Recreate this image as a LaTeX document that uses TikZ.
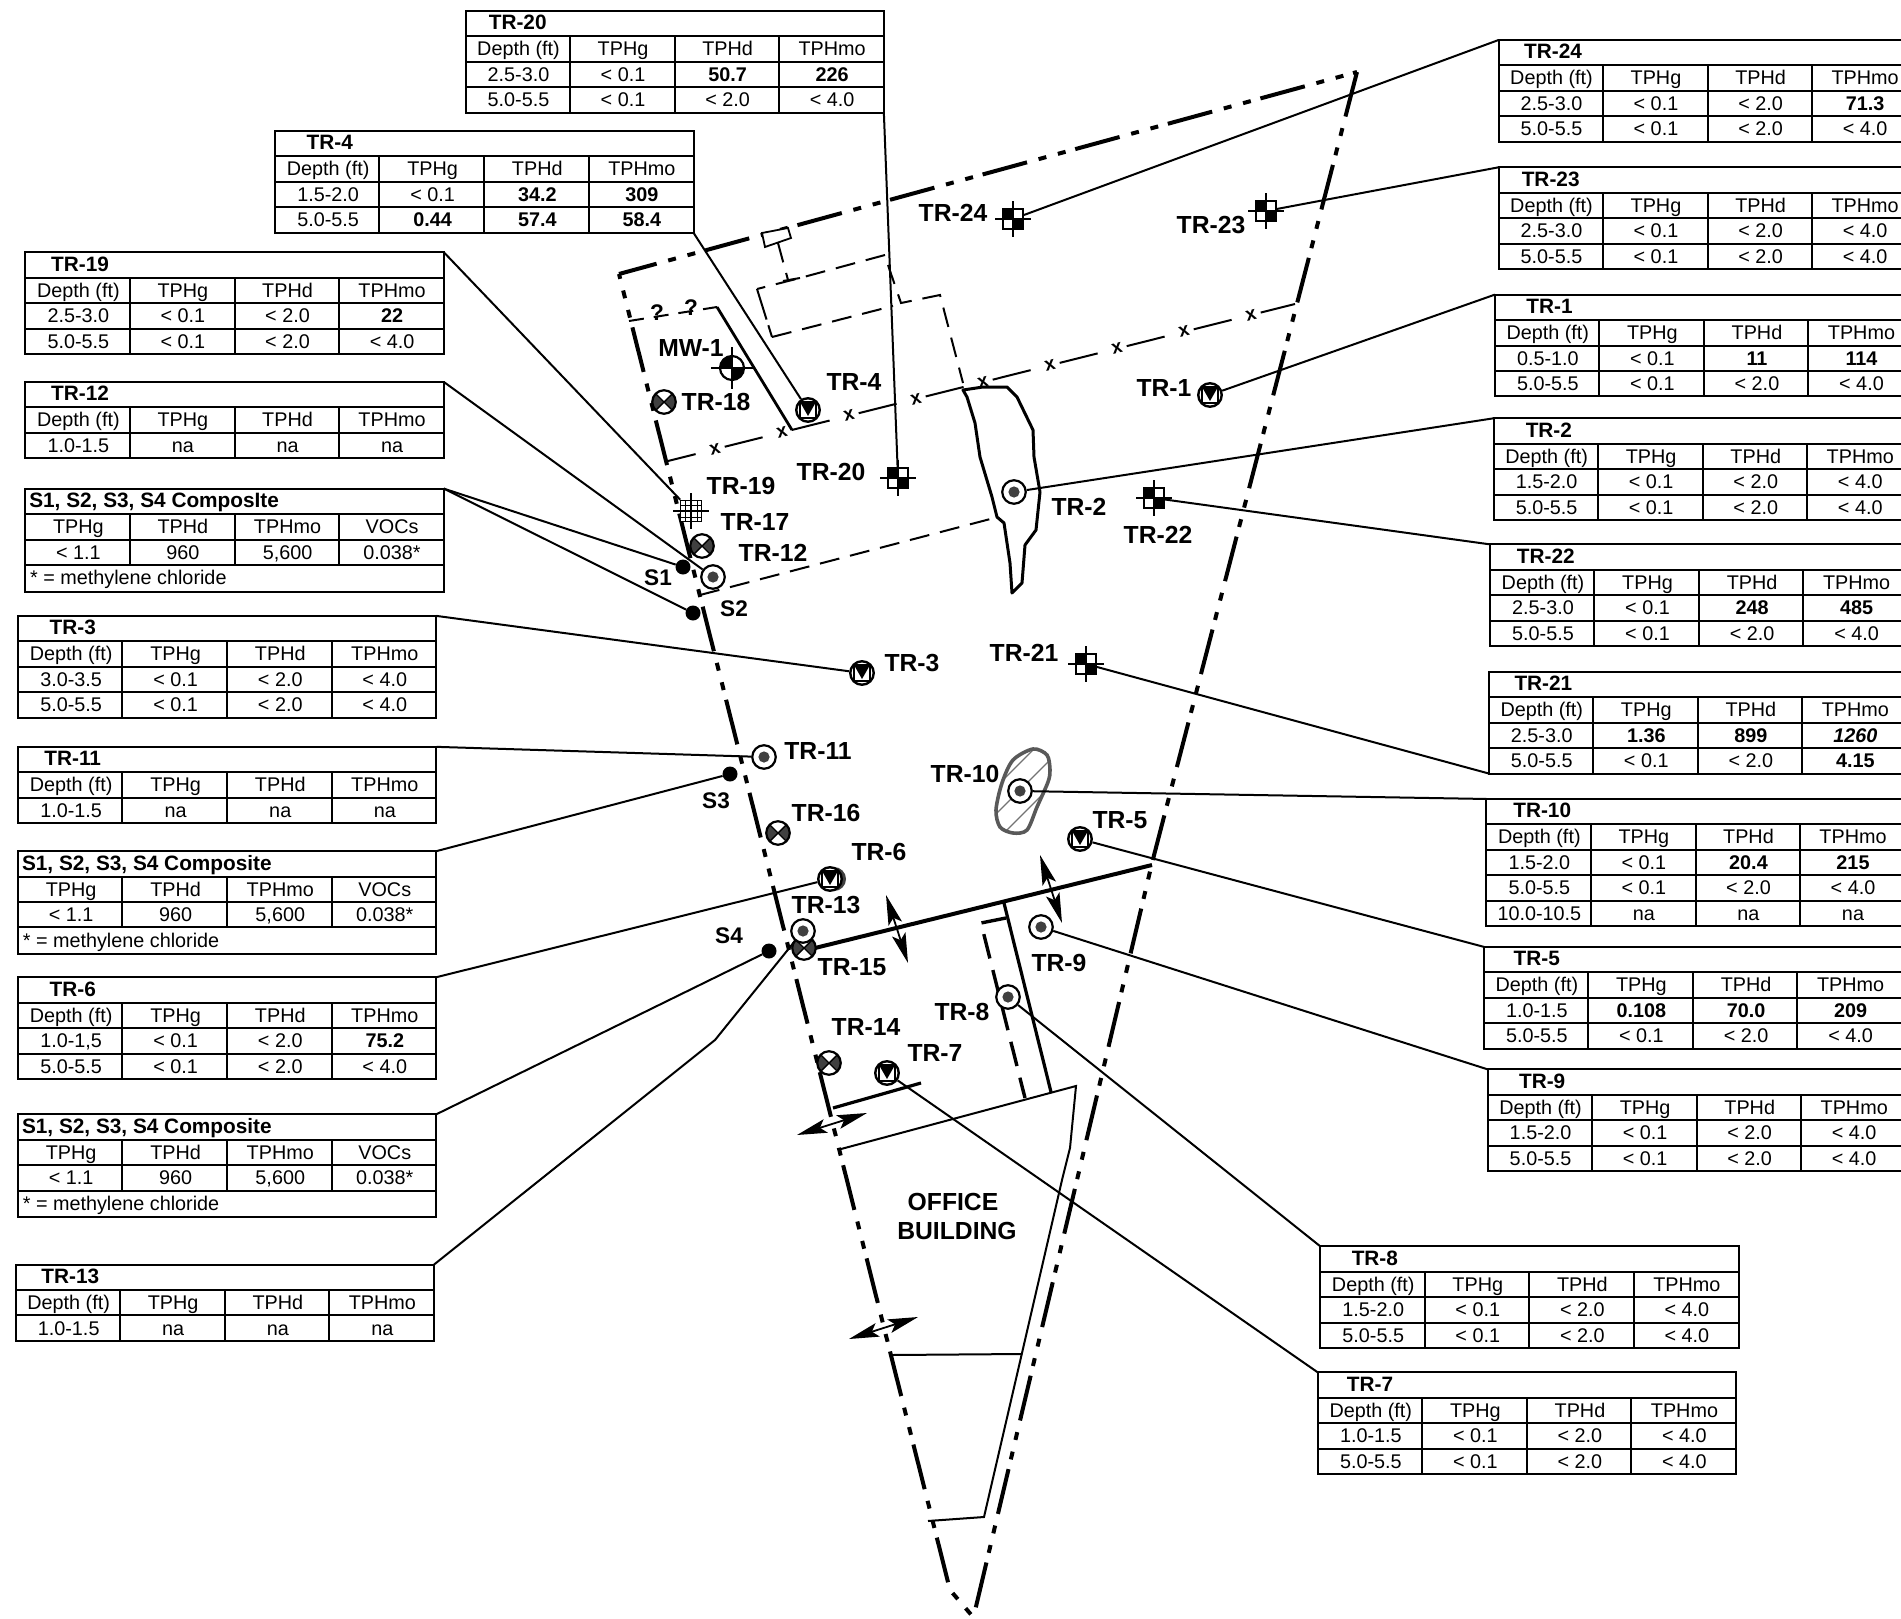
\documentclass[tikz,border=0pt]{standalone}
\usepackage{fontspec}
\setmainfont{Liberation Sans}
\usetikzlibrary{arrows.meta}
\definecolor{mkdark}{gray}{0.25}
\tikzset{
  tablebox/.style={draw,line width=2pt,inner sep=0pt,outer sep=0pt,rectangle},
  tablerule/.style={line width=2pt},
  cell/.style={inner sep=0pt,anchor=base,xshift=0.8pt,yshift=-6.8pt,font=\fontsize{19.8}{21}\selectfont},
  celltitle/.style={inner sep=0pt,anchor=base,yshift=-6.2pt,font=\fontsize{20.8}{23}\selectfont\bfseries},
  maplabel/.style={inner sep=0pt,font=\fontsize{24.7}{27}\selectfont\bfseries},
  slabel/.style={inner sep=0pt,font=\fontsize{22.6}{25}\selectfont\bfseries},
  boundary/.style={line width=4pt,dash pattern=on 46pt off 12pt on 8pt off 12pt on 8pt off 10pt},
  leader/.style={line width=2pt},
  thindash/.style={line width=2pt,dash pattern=on 20pt off 11pt},
  wallline/.style={line width=3.2pt},
  wallthin/.style={line width=2pt},
  wallbold/.style={line width=4pt},
  walldash/.style={line width=3.4pt,dash pattern=on 25pt off 12pt},
  fencemark/.style={inner sep=0pt,rotate=14,font=\fontsize{19}{21}\selectfont\bfseries},
  sitearrow/.style={line width=1.8pt,{Stealth[length=30pt,width=14pt,inset=6pt]}-{Stealth[length=30pt,width=14pt,inset=6pt]}},
  ringmk/.style={circle,draw,line width=2.2pt,minimum size=23.5pt,inner sep=0pt,fill=white,
    path picture={\fill[mkdark] (path picture bounding box.center) circle (5.6pt);}},
  xmk/.style={circle,draw,line width=2.2pt,minimum size=23.5pt,inner sep=0pt,fill=white,
    path picture={
      \fill[mkdark] (path picture bounding box.center) -- ++(-20pt,20pt) -- ++(0,-40pt) -- cycle;
      \fill[mkdark] (path picture bounding box.center) -- ++(20pt,20pt) -- ++(0,-40pt) -- cycle;
      \draw[line width=1.4pt] ([shift={(-12pt,-12pt)}]path picture bounding box.center) -- ([shift={(12pt,12pt)}]path picture bounding box.center);
      \draw[line width=1.4pt] ([shift={(-12pt,12pt)}]path picture bounding box.center) -- ([shift={(12pt,-12pt)}]path picture bounding box.center);
    }},
  vmk/.style={circle,draw,line width=2.4pt,minimum size=23.5pt,inner sep=0pt,fill=white,
    path picture={
      \fill[black] ([shift={(-8pt,8pt)}]path picture bounding box.center) -- ([shift={(8pt,8pt)}]path picture bounding box.center) -- ([shift={(0pt,-6pt)}]path picture bounding box.center) -- cycle;
      \draw[line width=1.6pt] ([shift={(-8pt,8pt)}]path picture bounding box.center) -- ([shift={(-8pt,-8pt)}]path picture bounding box.center);
      \draw[line width=1.6pt] ([shift={(8pt,8pt)}]path picture bounding box.center) -- ([shift={(8pt,-8pt)}]path picture bounding box.center);
      \draw[line width=1.6pt] ([shift={(-8pt,8pt)}]path picture bounding box.center) -- ([shift={(8pt,8pt)}]path picture bounding box.center);
      \draw[line width=1.6pt] ([shift={(-8pt,-8pt)}]path picture bounding box.center) -- ([shift={(8pt,-8pt)}]path picture bounding box.center);
    }},
  sqmk/.style={rectangle,draw,line width=2pt,minimum size=20pt,inner sep=0pt,fill=white,
    path picture={
      \fill[black] (path picture bounding box.center) rectangle (path picture bounding box.north west);
      \fill[black] (path picture bounding box.center) rectangle (path picture bounding box.south east);
    }},
  gridmk/.style={rectangle,draw,line width=1.6pt,minimum size=21pt,inner sep=0pt,fill=white,
    path picture={
      \draw[line width=1pt] ([shift={(-6pt,-12pt)}]path picture bounding box.center) -- ++(0,24pt);
      \draw[line width=1pt] ([shift={(6pt,-12pt)}]path picture bounding box.center) -- ++(0,24pt);
      \draw[line width=1pt] ([shift={(-12pt,-6pt)}]path picture bounding box.center) -- ++(24pt,0);
      \draw[line width=1pt] ([shift={(-12pt,6pt)}]path picture bounding box.center) -- ++(24pt,0);
    }},
  wellmk/.style={circle,draw,line width=2.2pt,minimum size=24pt,inner sep=0pt,fill=white,
    path picture={
      \fill[black] (path picture bounding box.center) rectangle (path picture bounding box.north west);
      \fill[black] (path picture bounding box.center) rectangle (path picture bounding box.south east);
    }},
  dotmk/.style={circle,fill=black,minimum size=15pt,inner sep=0pt},
  crossarm/.style={line width=2pt},
  blobfill/.style={line width=3.6pt,draw=black!65},
  hatchline/.style={line width=1.1pt,draw=black!55},
}
% name, x0, ytop, nrows, titlex, title, rows  (in the table scope's units)
\newcommand\datatable[7]{%
  \begin{scope}[x=1.2124pt,y=-1.2124pt]
    \pgfmathsetmacro\tblh{21*(#4+1)*1.2124}
    \node[tablebox,anchor=north west,minimum width=418.3pt,minimum height=\tblh pt] (#1) at (#2,#3) {};
    \node[celltitle] (#1-t) at (#5,#3+10.5) {#6};
    \foreach \ca/\cb/\cc/\cd [count=\rr] in {#7} {
      \pgfmathsetmacro\yc{#3+21*\rr+10.5}
      \draw[tablerule] (#2,#3+21*\rr) -- (#2+345,#3+21*\rr);
      \node[cell] (#1-\rr-1) at (#2+43,\yc) {\ca};
      \node[cell] (#1-\rr-2) at (#2+129.2,\yc) {\cb};
      \node[cell] (#1-\rr-3) at (#2+215.5,\yc) {\cc};
      \node[cell] (#1-\rr-4) at (#2+301.7,\yc) {\cd};
    }
    \foreach \vx in {86,172.5,258.5} {
      \draw[tablerule] (#2+\vx,#3+21) -- (#2+\vx,#3+21*#4+21);
    }
  \end{scope}}
% name, x0, ytop, title
\newcommand\compositetable[4]{%
  \begin{scope}[x=1.2124pt,y=-1.2124pt]
    \node[tablebox,anchor=north west,minimum width=418.3pt,minimum height=103pt] (#1) at (#2,#3) {};
    \node[celltitle,anchor=base west] (#1-t) at (#2+3,#3+10.5) {#4};
    \node[cell] (#1-a1) at (#2+43,#3+31.5) {TPHg};
    \node[cell] (#1-a2) at (#2+129.2,#3+31.5) {TPHd};
    \node[cell] (#1-a3) at (#2+215.5,#3+31.5) {TPHmo};
    \node[cell] (#1-a4) at (#2+301.7,#3+31.5) {VOCs};
    \node[cell] (#1-b1) at (#2+43,#3+52.5) {< 1.1};
    \node[cell] (#1-b2) at (#2+129.2,#3+52.5) {960};
    \node[cell] (#1-b3) at (#2+215.5,#3+52.5) {5,600};
    \node[cell] (#1-b4) at (#2+301.7,#3+52.5) {0.038*};
    \node[cell,anchor=base west] (#1-n) at (#2+3,#3+73.5) {* = methylene chloride};
    \foreach \hy in {21,42,63} {\draw[tablerule] (#2,#3+\hy) -- (#2+345,#3+\hy);}
    \foreach \vx in {86,172.5,258.5} {\draw[tablerule] (#2+\vx,#3+21) -- (#2+\vx,#3+63);}
  \end{scope}}
\newcommand\crossbox[3]{%
  \node[sqmk] (#1) at (#2,#3) {};
  \draw[crossarm] (#2-18,#3) -- (#2+18,#3);
  \draw[crossarm] (#2,#3-18) -- (#2,#3+18);}
\begin{document}
\begin{tikzpicture}[x=1pt,y=-1pt]
\clip (0,0) rectangle (1901,1619);
\fill[white] (0,0) rectangle (1901,1619);

% ---------- site boundary
\draw[boundary,dash phase=7pt] (619,274) -- (1357,72);
\draw[boundary] (1357,72) -- (1152,863) -- (974,1615);
\draw[boundary,dash phase=41pt] (619,274) -- (950,1590) -- (974,1618);

% ---------- walls, dashed outlines
\draw[line width=1.8pt,fill=white] (762,233) -- (788,228) -- (791,238) -- (765,247) -- cycle;
\draw[thindash] (778,243) -- (788,280);
\draw[wallthin] (783,281) -- (800,278);
\draw[thindash] (885,255) -- (800,278) -- (757,289);
\draw[wallthin,dash pattern=on 32pt off 6pt on 12pt off 0pt] (757,289) -- (772,337);
\draw[thindash] (772,337) -- (893,306);
\draw[thindash] (888,265) -- (901,303) -- (940,295) -- (963,383);
\draw[thindash] (700,595) -- (998,517);
\draw[thindash,dash pattern=on 15pt off 10pt] (629,321) -- (717,307);
\draw[line width=2.8pt] (717,307) -- (792,430);
\node[slabel] (q1) at (657,313) {?};
\node[slabel] (q2) at (691,308) {?};

% fence
\foreach \k in {0,...,8} {
  \pgfmathsetmacro\fx{715+67*\k}
  \pgfmathsetmacro\fy{449.2-0.2504*67*\k}
  \node[fencemark] (fx\k) at (\fx,\fy) {x};
}
\coordinate (fenceW) at (668,461);
\coordinate (fenceE) at (1295,304);
\draw[leader,shorten >=20pt] (fenceW) -- (fx0.center);
\foreach \k [remember=\k as \j (initially 0)] in {1,...,8} {
  \draw[leader,shorten <=10pt,shorten >=20pt] (fx\j.center) -- (fx\k.center);
}
\draw[leader,shorten <=10pt] (fx8.center) -- (fenceE);

% stained area near TR-2
\draw[line width=3pt,line join=round] (963,390) -- (983,387) -- (1007,387) -- (1017,397) -- (1033,430) -- (1034,457) -- (1040,492) -- (1036,530) -- (1025,545) -- (1022,583) -- (1012,593) -- (1010,563) -- (1004,523) -- (997,517) -- (992,497) -- (980,457) -- (975,423) -- (967,397) -- cycle;

% stained area at TR-10
\begin{scope}
  \clip plot[smooth cycle] coordinates {(1033,749) (1047,755) (1050,770) (1048,782) (1037,807) (1027,830) (1013,833) (1000,827) (996,810) (1002,783) (1013,760)};
  \foreach \c in {1756,1783,1810,1837,1864} {\draw[hatchline] (980,\c-980) -- (1060,\c-1060);}
\end{scope}
\draw[blobfill] plot[smooth cycle] coordinates {(1033,749) (1047,755) (1050,770) (1048,782) (1037,807) (1027,830) (1013,833) (1000,827) (996,810) (1002,783) (1013,760)};

% building walls
\draw[wallbold] (815,948) -- (1152,865);
\draw[wallline] (1004,903) -- (1051,1092);
\draw[walldash] (1006,918) -- (981,923) -- (1025,1098);
\draw[wallline] (833,1108) -- (921,1083);
\draw[wallthin] (841,1149) -- (1076,1086) -- (1070,1148) -- (1062,1180) -- (1022,1353) -- (984,1517) -- (928,1521);
\draw[wallthin] (892,1355) -- (1022,1354);
\node[maplabel] (office) at (953,1202) {OFFICE};
\node[maplabel] (building) at (957,1231) {BUILDING};

% section arrows
\coordinate (aa1) at (886,895); \coordinate (aa2) at (908,963);
\coordinate (ab1) at (1040,855); \coordinate (ab2) at (1062,923);
\coordinate (ac1) at (797,1135); \coordinate (ac2) at (867,1113);
\coordinate (ad1) at (849,1339); \coordinate (ad2) at (918,1317);
\draw[sitearrow] (aa1) -- (aa2);
\draw[sitearrow] (ab1) -- (ab2);
\draw[sitearrow] (ac1) -- (ac2);
\draw[sitearrow] (ad1) -- (ad2);

% ---------- tables
\datatable{tTR20}{384}{9}{3}{427}{TR-20}{Depth (ft)/TPHg/TPHd/TPHmo,2.5-3.0/< 0.1/\textbf{50.7}/\textbf{226},5.0-5.5/< 0.1/< 2.0/< 4.0}
\datatable{tTR4}{227}{108}{3}{272}{TR-4}{Depth (ft)/TPHg/TPHd/TPHmo,1.5-2.0/< 0.1/\textbf{34.2}/\textbf{309},5.0-5.5/\textbf{0.44}/\textbf{57.4}/\textbf{58.4}}
\datatable{tTR19}{21}{208}{3}{66}{TR-19}{Depth (ft)/TPHg/TPHd/TPHmo,2.5-3.0/< 0.1/< 2.0/\textbf{22},5.0-5.5/< 0.1/< 2.0/< 4.0}
\datatable{tTR12}{21}{315}{2}{66}{TR-12}{Depth (ft)/TPHg/TPHd/TPHmo,1.0-1.5/na/na/na}
\compositetable{tSa}{21}{403}{S1, S2, S3, S4 ComposIte}
\datatable{tTR3}{15}{508}{3}{60}{TR-3}{Depth (ft)/TPHg/TPHd/TPHmo,3.0-3.5/< 0.1/< 2.0/< 4.0,5.0-5.5/< 0.1/< 2.0/< 4.0}
\datatable{tTR11}{15}{616}{2}{60}{TR-11}{Depth (ft)/TPHg/TPHd/TPHmo,1.0-1.5/na/na/na}
\compositetable{tSb}{15}{702}{S1, S2, S3, S4 Composite}
\datatable{tTR6}{15}{806}{3}{60}{TR-6}{Depth (ft)/TPHg/TPHd/TPHmo,{1.0-1,5}/< 0.1/< 2.0/\textbf{75.2},5.0-5.5/< 0.1/< 2.0/< 4.0}
\compositetable{tSc}{15}{919}{S1, S2, S3, S4 Composite}
\datatable{tTR13}{13}{1043}{2}{58}{TR-13}{Depth (ft)/TPHg/TPHd/TPHmo,1.0-1.5/na/na/na}
\datatable{tTR24}{1236}{33}{3}{1281}{TR-24}{Depth (ft)/TPHg/TPHd/TPHmo,2.5-3.0/< 0.1/< 2.0/\textbf{71.3},5.0-5.5/< 0.1/< 2.0/< 4.0}
\datatable{tTR23}{1236}{138}{3}{1279}{TR-23}{Depth (ft)/TPHg/TPHd/TPHmo,2.5-3.0/< 0.1/< 2.0/< 4.0,5.0-5.5/< 0.1/< 2.0/< 4.0}
\datatable{tTR1}{1233}{243}{3}{1278}{TR-1}{Depth (ft)/TPHg/TPHd/TPHmo,0.5-1.0/< 0.1/\textbf{11}/\textbf{114},5.0-5.5/< 0.1/< 2.0/< 4.0}
\datatable{tTR2}{1232}{345}{3}{1277.5}{TR-2}{Depth (ft)/TPHg/TPHd/TPHmo,1.5-2.0/< 0.1/< 2.0/< 4.0,5.0-5.5/< 0.1/< 2.0/< 4.0}
\datatable{tTR22}{1229}{449}{3}{1275}{TR-22}{Depth (ft)/TPHg/TPHd/TPHmo,2.5-3.0/< 0.1/\textbf{248}/\textbf{485},5.0-5.5/< 0.1/< 2.0/< 4.0}
\datatable{tTR21}{1228}{554}{3}{1273}{TR-21}{Depth (ft)/TPHg/TPHd/TPHmo,2.5-3.0/\textbf{1.36}/\textbf{899}/\textbf{\textit{1260}},5.0-5.5/< 0.1/< 2.0/\textbf{4.15}}
\datatable{tTR10}{1226}{659}{4}{1272}{TR-10}{Depth (ft)/TPHg/TPHd/TPHmo,1.5-2.0/< 0.1/\textbf{20.4}/\textbf{215},5.0-5.5/< 0.1/< 2.0/< 4.0,10.0-10.5/na/na/na}
\datatable{tTR5}{1224}{781}{3}{1267.5}{TR-5}{Depth (ft)/TPHg/TPHd/TPHmo,1.0-1.5/\textbf{0.108}/\textbf{70.0}/\textbf{209},5.0-5.5/< 0.1/< 2.0/< 4.0}
\datatable{tTR9}{1227}{882}{3}{1272}{TR-9}{Depth (ft)/TPHg/TPHd/TPHmo,1.5-2.0/< 0.1/< 2.0/< 4.0,5.0-5.5/< 0.1/< 2.0/< 4.0}
\datatable{tTR8}{1089}{1028}{3}{1134}{TR-8}{Depth (ft)/TPHg/TPHd/TPHmo,1.5-2.0/< 0.1/< 2.0/< 4.0,5.0-5.5/< 0.1/< 2.0/< 4.0}
\datatable{tTR7}{1087}{1132}{3}{1130}{TR-7}{Depth (ft)/TPHg/TPHd/TPHmo,1.0-1.5/< 0.1/< 2.0/< 4.0,5.0-5.5/< 0.1/< 2.0/< 4.0}

% ---------- sample markers
\node[circle,fill=mkdark,minimum size=24pt,inner sep=0pt] (TR6s) at (834,879) {};
\node[vmk] (TR4) at (808,410) {};
\node[vmk] (TR1) at (1210,395) {};
\node[vmk] (TR3) at (862,673) {};
\node[vmk] (TR5) at (1080,839) {};
\node[vmk] (TR6) at (830,879) {};
\node[vmk] (TR7) at (887,1073) {};
\node[xmk] (TR18) at (664,402) {};
\node[xmk] (TR17) at (702,546) {};
\node[xmk] (TR16) at (778,833) {};
\node[xmk] (TR14) at (829,1063) {};
\node[xmk] (TR15) at (804,948) {};
\node[ringmk] (TR12) at (713,577) {};
\node[ringmk] (TR2) at (1014,492) {};
\node[ringmk] (TR11) at (764,757) {};
\node[ringmk] (TR10) at (1020,791) {};
\node[ringmk] (TR13) at (803,931) {};
\node[ringmk] (TR9) at (1041,927) {};
\node[ringmk] (TR8) at (1008,997) {};
\crossbox{TR24}{1013}{219}
\crossbox{TR23}{1266}{211}
\crossbox{TR22}{1154}{498}
\crossbox{TR21}{1086}{664}
\crossbox{TR20}{898}{478}
\node[gridmk] (TR19) at (691,511) {};
\draw[crossarm] (673,511) -- (709,511);
\draw[crossarm] (691,493) -- (691,529);
\node[wellmk] (MW1) at (732,368) {};
\draw[crossarm] (711,368) -- (753,368);
\draw[crossarm] (732,347) -- (732,389);
\node[dotmk] (S1) at (683,567) {};
\node[dotmk] (S2) at (693,613) {};
\node[dotmk] (S3) at (730,774) {};
\node[dotmk] (S4) at (769,951) {};

% ---------- labels
\node[maplabel] (lTR24) at (953,213) {TR-24};
\node[maplabel] (lTR23) at (1211,225) {TR-23};
\node[maplabel] (lTR1) at (1164,388) {TR-1};
\node[maplabel] (lTR2) at (1079,507) {TR-2};
\node[maplabel] (lTR22) at (1158,535) {TR-22};
\node[maplabel] (lTR20) at (831,472) {TR-20};
\node[maplabel] (lTR4) at (854,382) {TR-4};
\node[maplabel] (lMW1) at (691,348) {MW-1};
\node[maplabel] (lTR18) at (716,402) {TR-18};
\node[maplabel] (lTR19) at (741,486) {TR-19};
\node[maplabel] (lTR17) at (755,522) {TR-17};
\node[maplabel] (lTR12) at (773,553) {TR-12};
\node[slabel] (lS1) at (658,578) {S1};
\node[slabel] (lS2) at (734,609) {S2};
\node[maplabel] (lTR3) at (912,663) {TR-3};
\node[maplabel] (lTR21) at (1024,653) {TR-21};
\node[maplabel] (lTR11) at (818,751) {TR-11};
\node[maplabel] (lTR10) at (965,774) {TR-10};
\node[maplabel] (lTR16) at (826,813) {TR-16};
\node[slabel] (lS3) at (716,801) {S3};
\node[maplabel] (lTR5) at (1120,820) {TR-5};
\node[maplabel] (lTR6) at (879,852) {TR-6};
\node[maplabel] (lTR13) at (826,905) {TR-13};
\node[maplabel] (lTR15) at (852,967) {TR-15};
\node[slabel] (lS4) at (729,936) {S4};
\node[maplabel] (lTR9) at (1059,963) {TR-9};
\node[maplabel] (lTR8) at (962,1012) {TR-8};
\node[maplabel] (lTR14) at (866,1027) {TR-14};
\node[maplabel] (lTR7) at (935,1053) {TR-7};

% ---------- leaders
\draw[leader] (tTR20.south east) -- (TR20);
\draw[leader] (tTR4.south east) -- (TR4);
\draw[leader] (tTR19.north east) -- (TR19);
\draw[leader] (tTR12.north east) -- (TR12);
\draw[leader] (tSa.north east) -- (S1);
\draw[leader] (tSa.north east) -- (S2);
\draw[leader] (tTR3.north east) -- (TR3);
\draw[leader] (tTR11.north east) -- (TR11);
\draw[leader] (tSb.north east) -- (S3);
\draw[leader] (tTR6.north east) -- (TR6);
\draw[leader] (tSc.north east) -- (S4);
\coordinate (bendTR13) at (715,1040);
\draw[leader] (tTR13.north east) -- (bendTR13) -- (TR13);
\draw[leader] (tTR24.north west) -- (TR24);
\draw[leader] (tTR23.north west) -- (TR23);
\draw[leader] (tTR1.north west) -- (TR1);
\draw[leader] (tTR2.north west) -- (TR2);
\draw[leader] (tTR22.north west) -- (TR22);
\draw[leader] (tTR21.south west) -- (TR21);
\draw[leader] (tTR10.north west) -- (TR10);
\draw[leader] (tTR5.north west) -- (TR5);
\draw[leader] (tTR9.north west) -- (TR9);
\draw[leader] (tTR8.north west) -- (TR8);
\draw[leader] (tTR7.north west) -- (TR7);
\end{tikzpicture}
\end{document}
